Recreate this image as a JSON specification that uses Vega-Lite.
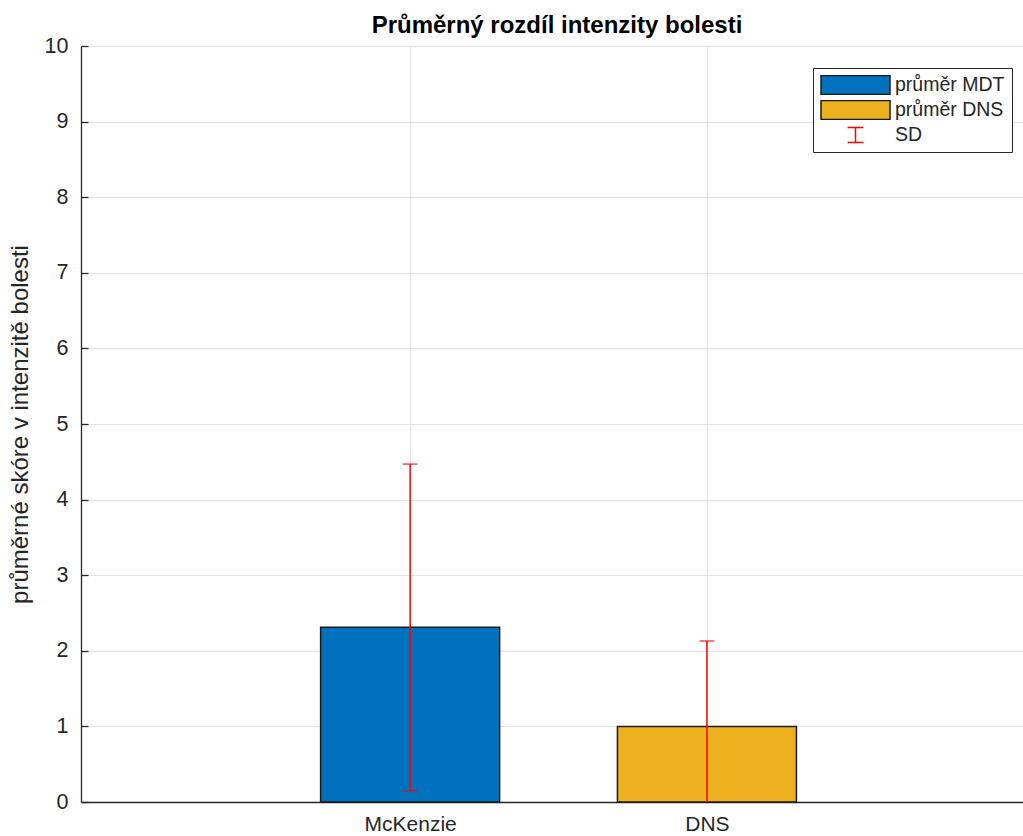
{
  "$schema": "https://vega.github.io/schema/vega-lite/v6.json",
  "width": 942,
  "height": 756,
  "autosize": {"type": "none"},
  "padding": {"left": 81, "top": 46, "right": 0, "bottom": 34},
  "background": "white",
  "title": {"text": "Průměrný rozdíl intenzity bolesti", "fontSize": 24, "font": "Liberation Sans", "fontWeight": "bold", "color": "#000000", "anchor": "middle", "offset": -3, "dx": 5},
  "config": {
    "view": {"stroke": null},
    "font": "Liberation Sans",
    "axis": {"labelFont": "Liberation Sans", "titleFont": "Liberation Sans", "labelColor": "#262626", "titleColor": "#262626", "domainColor": "#262626", "tickColor": "#262626", "gridColor": "#e3e3e3", "domainWidth": 1.3, "tickWidth": 1.3, "gridWidth": 1}
  },
  "datasets": {
    "bars": [
      {"group": "McKenzie", "pos": 1, "mean": 2.31, "lo": 0.15, "hi": 4.47, "series": "průměr MDT"},
      {"group": "DNS", "pos": 2, "mean": 1.0, "lo": -0.13, "hi": 2.13, "series": "průměr DNS"}
    ],
    "legend": [
      {"series": "průměr MDT"},
      {"series": "průměr DNS"},
      {"series": "SD"}
    ]
  },
  "layer": [
    {
      "data": {"name": "bars"},
      "mark": {"type": "bar", "width": 179, "stroke": "#1a1a1a", "strokeWidth": 1.5},
      "encoding": {
        "x": {"field": "pos", "type": "quantitative", "scale": {"domain": [-0.092, 3.048], "nice": false, "zero": false},
          "axis": {"values": [1, 2], "labelExpr": "datum.value == 1 ? 'McKenzie' : 'DNS'", "tickSize": -7, "labelPadding": 18, "labelFontSize": 21, "title": null, "grid": true}},
        "y": {"field": "mean", "type": "quantitative", "scale": {"domain": [0, 10], "nice": false},
          "axis": {"values": [0, 1, 2, 3, 4, 5, 6, 7, 8, 9, 10], "format": "d", "tickSize": -7, "labelPadding": 20, "labelFontSize": 21.5, "title": "průměrné skóre v intenzitě bolesti", "titleFontSize": 24, "titleFontWeight": "normal", "titlePadding": 12, "grid": true}},
        "color": {"field": "series", "type": "nominal", "scale": {"domain": ["průměr MDT", "průměr DNS"], "range": ["#0072BD", "#EDB120"]}, "legend": null}
      }
    },
    {
      "data": {"name": "bars"},
      "mark": {"type": "rule", "color": "#FF0000", "strokeWidth": 1.5, "clip": true},
      "encoding": {
        "x": {"field": "pos", "type": "quantitative"},
        "y": {"field": "lo", "type": "quantitative"},
        "y2": {"field": "hi"}
      }
    },
    {
      "data": {"name": "bars"},
      "mark": {"type": "tick", "orient": "horizontal", "color": "#FF0000", "thickness": 1.5, "size": 15, "clip": true},
      "encoding": {
        "x": {"field": "pos", "type": "quantitative"},
        "y": {"field": "hi", "type": "quantitative"}
      }
    },
    {
      "data": {"name": "bars"},
      "mark": {"type": "tick", "orient": "horizontal", "color": "#FF0000", "thickness": 1.5, "size": 15, "clip": true},
      "encoding": {
        "x": {"field": "pos", "type": "quantitative"},
        "y": {"field": "lo", "type": "quantitative"}
      }
    },
    {
      "mark": {"type": "rule", "color": "#262626", "strokeWidth": 1.3},
      "encoding": {"y": {"datum": 10, "type": "quantitative"}}
    },
    {
      "data": {"name": "legend"},
      "mark": {"type": "point", "opacity": 0},
      "encoding": {
        "fill": {"field": "series", "type": "nominal", "scale": {"domain": ["průměr MDT", "průměr DNS", "SD"], "range": ["#0072BD", "#EDB120", "transparent"]},
          "legend": {"title": null, "orient": "none", "legendX": 732, "legendY": 22, "symbolSize": 4761, "clipHeight": 20, "symbolStrokeWidth": 1.5, "symbolFillColor": "transparent", "symbolStrokeColor": "#1a1a1a", "symbolOpacity": 1, "labelFontSize": 19.5, "labelFont": "Liberation Sans", "labelColor": "#262626", "labelOffset": 4, "rowPadding": 5, "padding": 7, "strokeColor": "#262626", "fillColor": "white", "cornerRadius": 0}},
        "stroke": {"field": "series", "type": "nominal", "scale": {"domain": ["průměr MDT", "průměr DNS", "SD"], "range": ["#1a1a1a", "#1a1a1a", "#FF0000"]},
          "legend": {"title": null, "orient": "none", "legendX": 732, "legendY": 22, "symbolSize": 4761, "clipHeight": 20, "symbolStrokeWidth": 1.5, "symbolFillColor": "transparent", "symbolStrokeColor": "#1a1a1a", "symbolOpacity": 1, "labelFontSize": 19.5, "labelFont": "Liberation Sans", "labelColor": "#262626", "labelOffset": 4, "rowPadding": 5, "padding": 7, "strokeColor": "#262626", "fillColor": "white", "cornerRadius": 0}},
        "shape": {"field": "series", "type": "nominal", "scale": {"domain": ["průměr MDT", "průměr DNS", "SD"], "range": ["M-1,-0.275H1V0.275H-1Z", "M-1,-0.275H1V0.275H-1Z", "M-0.23,-0.217H0.23M0,-0.217V0.217M-0.23,0.217H0.23"]},
          "legend": {"title": null, "orient": "none", "legendX": 732, "legendY": 22, "symbolSize": 4761, "clipHeight": 20, "symbolStrokeWidth": 1.5, "symbolFillColor": "transparent", "symbolStrokeColor": "#1a1a1a", "symbolOpacity": 1, "labelFontSize": 19.5, "labelFont": "Liberation Sans", "labelColor": "#262626", "labelOffset": 4, "rowPadding": 5, "padding": 7, "strokeColor": "#262626", "fillColor": "white", "cornerRadius": 0}}
      }
    }
  ]
}
